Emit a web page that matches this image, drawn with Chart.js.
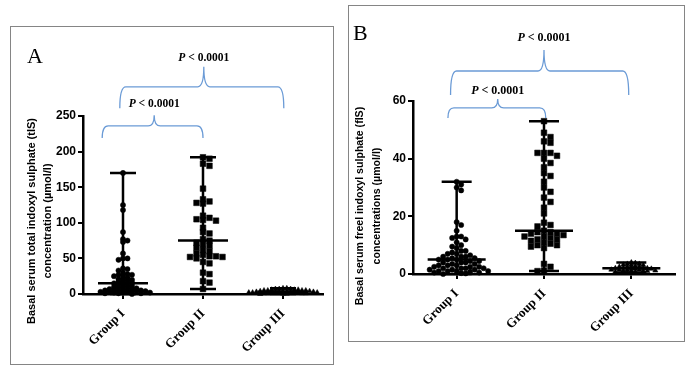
<!DOCTYPE html>
<html>
<head>
<meta charset="utf-8">
<script src="https://cdn.jsdelivr.net/npm/chart.js@4.4.1/dist/chart.umd.min.js"></script>
<style>
body { margin: 0; background: #fff; width: 692px; height: 371px; position: relative; overflow: hidden; }
.box { position: absolute; border: 1.5px solid #858585; box-sizing: border-box; }
canvas { position: absolute; }
</style>
</head>
<body>
<div class="box" style="left:10px;top:26px;width:324px;height:339px"></div>
<div class="box" style="left:348px;top:5px;width:337px;height:337px"></div>
<canvas id="chartA" width="324" height="339" style="left:10px;top:26px"></canvas>
<canvas id="chartB" width="337" height="337" style="left:348px;top:5px"></canvas>
<script>
// groups
const groups = ['Group I', 'Group II', 'Group III'];
const pText = ' < 0.0001';

// A : total indoxyl sulphate (µmol/l)
const totalGroupI = [170, 125, 118, 87, 77, 75, 73, 57, 50, 50, 48, 36, 35, 33, 30, 28, 27, 27, 26, 25, 23, 22, 21, 20, 19, 18, 17, 16, 15, 15, 14, 13, 12, 11, 10, 10, 9, 8, 8, 7, 7, 6, 6, 5, 5, 5, 4, 4, 4, 3, 3, 3, 2, 2, 2, 1, 1, 1, 0];
const totalGroupII = [192, 190, 183, 180, 148, 133, 130, 128, 127, 110, 107, 105, 104, 103, 93, 87, 85, 77, 75, 72, 70, 68, 65, 62, 60, 57, 55, 53, 53, 52, 52, 50, 45, 43, 30, 28, 18, 16, 7];
const totalGroupIII = [8, 8, 7, 7, 7, 6, 6, 6, 5, 5, 5, 5, 4, 4, 4, 4, 3, 3, 3, 3, 3, 2, 2, 2, 2, 2, 2, 1, 1, 1, 1, 0.5, 0.5, 0];
const totalMedian = [15, 75, 3];
const totalMin = [0, 7, 0];
const totalMax = [170, 192, 8];
const totalTicks = [0, 50, 100, 150, 200, 250];

// B : free indoxyl sulphate (µmol/l)
const freeGroupI = [32, 31, 30, 29, 18, 17, 15, 13, 13, 12.5, 12, 11, 10, 9.5, 9, 8, 8, 7.5, 7, 7, 6.5, 6, 6, 6, 5.5, 5.5, 5, 5, 5, 4.5, 4.5, 4, 4, 4, 3.5, 3.5, 3, 3, 3, 2.5, 2.5, 2.5, 2, 2, 2, 2, 1.5, 1.5, 1.5, 1, 1, 1, 1, 0.8, 0.5, 0.5, 0.3, 0.2, 0];
const freeGroupII = [53, 49, 47.5, 46, 45.5, 42, 42, 42, 41, 40, 38.5, 37, 35, 34, 32, 30, 28.5, 26.5, 25, 23, 21, 17.8, 17, 16.5, 15, 14.5, 14.5, 14, 14, 13.5, 13, 13, 12.5, 12, 12, 11.5, 11, 10.5, 10, 10, 9.5, 9, 3.5, 2.5, 1.2, 1];
const freeGroupIII = [4, 3.8, 3.5, 3.5, 3.2, 3, 3, 2.8, 2.5, 2.5, 2.5, 2.2, 2, 2, 2, 2, 1.8, 1.8, 1.5, 1.5, 1.5, 1.5, 1.2, 1.2, 1, 1, 1, 0.8, 0.8, 0.5];
const freeMedian = [5, 15, 2];
const freeMin = [0, 1, 0.5];
const freeMax = [32, 53, 4];
const freeTicks = [0, 20, 40, 60];

const markers = [
    { style: 'circle', radius: 2.6 },
    { style: 'rect', radius: 4 },
    { style: 'triangle', radius: 3 }
];

// simple beeswarm: spread points sideways so they don't overlap too much
function swarm(chart, values, center, m) {
    const xs = chart.scales.x, ys = chart.scales.y;
    const cx = xs.getPixelForValue(center);
    const placed = [];
    return values.map(v => {
        const py = ys.getPixelForValue(v);
        let k = 0, px;
        for (;;) {
            const step = Math.ceil(k / 2) * (k % 2 ? 1 : -1);
            px = cx + step * m.hgap;
            if (!placed.some(p => Math.abs(p[0] - px) < m.hgap - 0.01 && Math.abs(p[1] - py) < m.vgap)) break;
            k++;
        }
        placed.push([px, py]);
        return { x: xs.getValueForPixel(px), y: v };
    });
}

function brace(ctx, x1, x2, xm, yEnd, yLine, yPeak) {
    const r = 6;
    ctx.beginPath();
    ctx.moveTo(x1, yEnd);
    ctx.quadraticCurveTo(x1, yLine, x1 + r, yLine);
    ctx.lineTo(xm - r, yLine);
    ctx.quadraticCurveTo(xm, yLine, xm, yPeak);
    ctx.quadraticCurveTo(xm, yLine, xm + r, yLine);
    ctx.lineTo(x2 - r, yLine);
    ctx.quadraticCurveTo(x2, yLine, x2, yEnd);
    ctx.stroke();
}

function makePanel(id, p) {
    const extras = {
        id: 'extras',
        afterDatasetsDraw(chart) {
            const ctx = chart.ctx, xs = chart.scales.x, ys = chart.scales.y;
            ctx.save();
            // median and range
            ctx.strokeStyle = '#000';
            ctx.lineWidth = 2.5;
            ctx.lineCap = 'butt';
            for (let g = 0; g < 3; g++) {
                const cx = xs.getPixelForValue(g + 1);
                const yMin = ys.getPixelForValue(p.min[g]);
                const yMax = ys.getPixelForValue(p.max[g]);
                const yMed = ys.getPixelForValue(p.median[g]);
                ctx.beginPath();
                ctx.moveTo(cx, yMin); ctx.lineTo(cx, yMax);
                ctx.moveTo(cx - p.capW, yMax); ctx.lineTo(cx + p.capW, yMax);
                ctx.moveTo(cx - p.capW, yMin); ctx.lineTo(cx + p.capW, yMin);
                ctx.moveTo(cx - p.medW, yMed); ctx.lineTo(cx + p.medW, yMed);
                ctx.stroke();
            }
            // brackets
            ctx.strokeStyle = '#6b9bd6';
            ctx.lineWidth = 1.3;
            p.brackets.forEach(b => {
                const x1 = xs.getPixelForValue(b.from), x2 = xs.getPixelForValue(b.to);
                const xm = xs.getPixelForValue(b.mid);
                brace(ctx, x1, x2, xm, ys.getPixelForValue(b.end), ys.getPixelForValue(b.line), ys.getPixelForValue(b.peak));
                const ty = ys.getPixelForValue(b.label);
                ctx.fillStyle = '#000';
                ctx.textBaseline = 'middle';
                ctx.textAlign = 'left';
                ctx.font = `italic bold ${p.pSize}px "Liberation Serif"`;
                const w1 = ctx.measureText('P').width;
                ctx.font = `bold ${p.pSize}px "Liberation Serif"`;
                const w2 = ctx.measureText(pText).width;
                const x0 = xm - (w1 + w2) / 2;
                ctx.font = `italic bold ${p.pSize}px "Liberation Serif"`;
                ctx.fillText('P', x0, ty);
                ctx.font = `bold ${p.pSize}px "Liberation Serif"`;
                ctx.fillText(pText, x0 + w1, ty);
            });
            // y title
            ctx.fillStyle = '#000';
            ctx.font = `bold ${p.titleSize}px "Liberation Sans"`;
            ctx.textAlign = 'center';
            ctx.textBaseline = 'middle';
            ctx.translate(p.titleX, p.titleY);
            ctx.rotate(-Math.PI / 2);
            ctx.fillText(p.title[0], 0, 0);
            ctx.fillText(p.title[1], 0, p.titleGap);
            ctx.restore();
            // panel letter
            ctx.save();
            ctx.fillStyle = '#000';
            ctx.font = '22px "Liberation Serif"';
            ctx.textBaseline = 'alphabetic';
            ctx.fillText(p.letter, p.letterX, p.letterY);
            ctx.restore();
        }
    };

    const chart = new Chart(document.getElementById(id), {
        type: 'scatter',
        data: {
            datasets: p.values.map((vals, i) => ({
                data: vals.map(v => ({ x: i + 1, y: v })),
                pointStyle: markers[i].style,
                pointRadius: markers[i].radius,
                backgroundColor: '#000',
                borderColor: '#000',
                borderWidth: 0.5,
                clip: false
            }))
        },
        options: {
            responsive: false,
            animation: false,
            devicePixelRatio: 1,
            layout: { padding: { left: 0, right: p.padRight, top: p.padTop, bottom: 0 } },
            plugins: { legend: { display: false }, tooltip: { enabled: false } },
            scales: {
                x: {
                    type: 'linear',
                    min: 0.5,
                    max: 3.5,
                    afterBuildTicks: s => { s.ticks = [1, 2, 3].map(v => ({ value: v })); },
                    afterFit: s => { s.height = p.xHeight; },
                    border: { color: '#000', width: 2.5 },
                    grid: { drawOnChartArea: false, drawTicks: true, tickLength: 5, color: '#000', lineWidth: 2 },
                    ticks: {
                        autoSkip: false,
                        minRotation: 45,
                        maxRotation: 45,
                        padding: 7,
                        color: '#000',
                        font: { family: '"Liberation Serif"', size: 13, weight: 'bold' },
                        callback: (v, i) => groups[i]
                    }
                },
                y: {
                    min: p.ticks[0],
                    max: p.ticks[p.ticks.length - 1],
                    afterBuildTicks: s => { s.ticks = p.ticks.map(v => ({ value: v })); },
                    afterFit: s => { s.width = p.yWidth; },
                    border: { color: '#000', width: 2.5 },
                    grid: { drawOnChartArea: false, drawTicks: true, tickLength: 5, color: '#000', lineWidth: 2 },
                    ticks: {
                        padding: 2,
                        color: '#000',
                        font: { family: '"Liberation Sans"', size: 12, weight: 'bold' }
                    }
                }
            }
        },
        plugins: [extras]
    });

    chart.data.datasets.forEach((ds, i) => {
        ds.data = swarm(chart, p.values[i], i + 1, p.gaps[i]);
    });
    chart.update('none');
    return chart;
}

makePanel('chartA', {
    values: [totalGroupI, totalGroupII, totalGroupIII],
    median: totalMedian, min: totalMin, max: totalMax, ticks: totalTicks,
    gaps: [{ hgap: 4.5, vgap: 2.5 }, { hgap: 6.5, vgap: 4 }, { hgap: 3.8, vgap: 2.2 }],
    capW: 13, medW: 25,
    padRight: 11, padTop: 90, xHeight: 71, yWidth: 73,
    title: ['Basal serum total indoxyl sulphate (tIS)', 'concentration (µmol/l)'],
    titleSize: 11, titleX: 22, titleY: 195, titleGap: 16,
    letter: 'A', letterX: 17, letterY: 37,
    pSize: 11.5,
    brackets: [
        { from: 0.74, to: 2.0, mid: 1.39, end: 219, line: 236, peak: 251, label: 267 },
        { from: 0.96, to: 3.01, mid: 2.01, end: 261, line: 291, peak: 319, label: 331 }
    ]
});

makePanel('chartB', {
    values: [freeGroupI, freeGroupII, freeGroupIII],
    median: freeMedian, min: freeMin, max: freeMax, ticks: freeTicks,
    gaps: [{ hgap: 4.5, vgap: 4.5 }, { hgap: 6.5, vgap: 4.5 }, { hgap: 4, vgap: 2.5 }],
    capW: 15, medW: 29,
    padRight: 10, padTop: 96, xHeight: 68, yWidth: 65,
    title: ['Basal serum freel indoxyl sulphate (fIS)', 'concentrations (µmol/l)'],
    titleSize: 10.6, titleX: 12, titleY: 201, titleGap: 17,
    letter: 'B', letterX: 5, letterY: 35,
    pSize: 12,
    brackets: [
        { from: 0.9, to: 2.02, mid: 1.47, end: 54.1, line: 57.6, peak: 60.7, label: 63.5 },
        { from: 0.93, to: 2.97, mid: 2.0, end: 62.1, line: 70.4, peak: 77.7, label: 81.9 }
    ]
});
</script>
</body>
</html>
